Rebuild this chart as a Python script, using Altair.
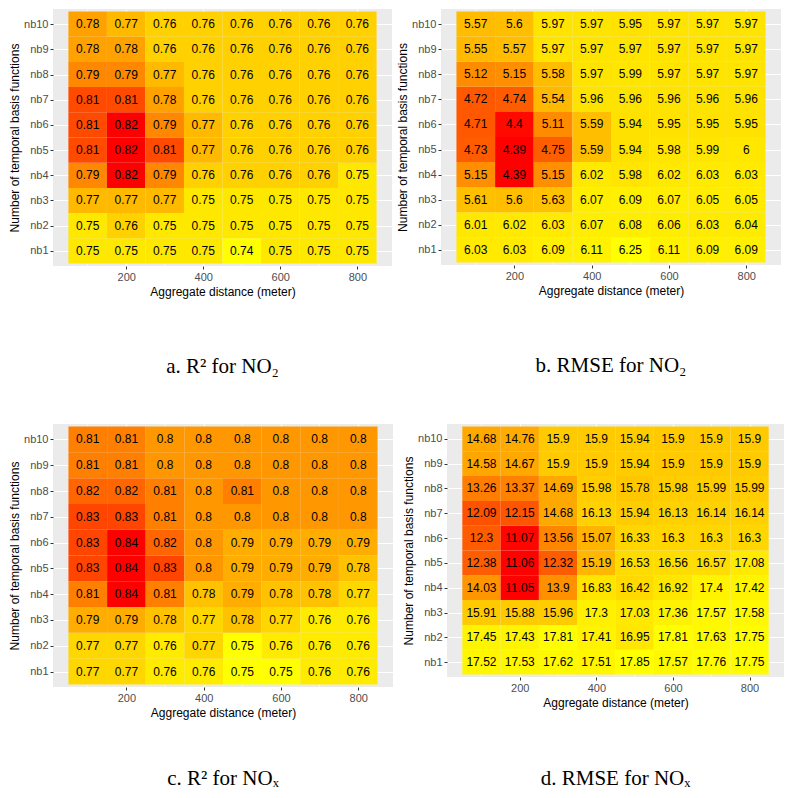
import altair as alt
import pandas as pd

distances = [100, 200, 300, 400, 500, 600, 700, 800]
nb_levels = [1, 2, 3, 4, 5, 6, 7, 8, 9, 10]
minor_breaks = [100, 300, 500, 700]
major_breaks = [200, 400, 600, 800]

# rows nb1 .. nb10, columns 100 .. 800 m
r2_no2 = [
    [0.75, 0.75, 0.75, 0.75, 0.74, 0.75, 0.75, 0.75],
    [0.75, 0.76, 0.75, 0.75, 0.75, 0.75, 0.75, 0.75],
    [0.77, 0.77, 0.77, 0.75, 0.75, 0.75, 0.75, 0.75],
    [0.79, 0.82, 0.79, 0.76, 0.76, 0.76, 0.76, 0.75],
    [0.81, 0.82, 0.81, 0.77, 0.76, 0.76, 0.76, 0.76],
    [0.81, 0.82, 0.79, 0.77, 0.76, 0.76, 0.76, 0.76],
    [0.81, 0.81, 0.78, 0.76, 0.76, 0.76, 0.76, 0.76],
    [0.79, 0.79, 0.77, 0.76, 0.76, 0.76, 0.76, 0.76],
    [0.78, 0.78, 0.76, 0.76, 0.76, 0.76, 0.76, 0.76],
    [0.78, 0.77, 0.76, 0.76, 0.76, 0.76, 0.76, 0.76],
]
rmse_no2 = [
    [6.03, 6.03, 6.09, 6.11, 6.25, 6.11, 6.09, 6.09],
    [6.01, 6.02, 6.03, 6.07, 6.08, 6.06, 6.03, 6.04],
    [5.61, 5.6, 5.63, 6.07, 6.09, 6.07, 6.05, 6.05],
    [5.15, 4.39, 5.15, 6.02, 5.98, 6.02, 6.03, 6.03],
    [4.73, 4.39, 4.75, 5.59, 5.94, 5.98, 5.99, 6.0],
    [4.71, 4.4, 5.11, 5.59, 5.94, 5.95, 5.95, 5.95],
    [4.72, 4.74, 5.54, 5.96, 5.96, 5.96, 5.96, 5.96],
    [5.12, 5.15, 5.58, 5.97, 5.99, 5.97, 5.97, 5.97],
    [5.55, 5.57, 5.97, 5.97, 5.97, 5.97, 5.97, 5.97],
    [5.57, 5.6, 5.97, 5.97, 5.95, 5.97, 5.97, 5.97],
]
r2_nox = [
    [0.77, 0.77, 0.76, 0.76, 0.75, 0.75, 0.76, 0.76],
    [0.77, 0.77, 0.76, 0.77, 0.75, 0.76, 0.76, 0.76],
    [0.79, 0.79, 0.78, 0.77, 0.78, 0.77, 0.76, 0.76],
    [0.81, 0.84, 0.81, 0.78, 0.79, 0.78, 0.78, 0.77],
    [0.83, 0.84, 0.83, 0.8, 0.79, 0.79, 0.79, 0.78],
    [0.83, 0.84, 0.82, 0.8, 0.79, 0.79, 0.79, 0.79],
    [0.83, 0.83, 0.81, 0.8, 0.8, 0.8, 0.8, 0.8],
    [0.82, 0.82, 0.81, 0.8, 0.81, 0.8, 0.8, 0.8],
    [0.81, 0.81, 0.8, 0.8, 0.8, 0.8, 0.8, 0.8],
    [0.81, 0.81, 0.8, 0.8, 0.8, 0.8, 0.8, 0.8],
]
rmse_nox = [
    [17.52, 17.53, 17.62, 17.51, 17.85, 17.57, 17.76, 17.75],
    [17.45, 17.43, 17.81, 17.41, 16.95, 17.81, 17.63, 17.75],
    [15.91, 15.88, 15.96, 17.3, 17.03, 17.36, 17.57, 17.58],
    [14.03, 11.05, 13.9, 16.83, 16.42, 16.92, 17.4, 17.42],
    [12.38, 11.06, 12.32, 15.19, 16.53, 16.56, 16.57, 17.08],
    [12.3, 11.07, 13.56, 15.07, 16.33, 16.3, 16.3, 16.3],
    [12.09, 12.15, 14.68, 16.13, 15.94, 16.13, 16.14, 16.14],
    [13.26, 13.37, 14.69, 15.98, 15.78, 15.98, 15.99, 15.99],
    [14.58, 14.67, 15.9, 15.9, 15.94, 15.9, 15.9, 15.9],
    [14.68, 14.76, 15.9, 15.9, 15.94, 15.9, 15.9, 15.9],
]

captions = ["a. R\u00b2 for NO\u2082", "b. RMSE for NO\u2082",
            "c. R\u00b2 for NO\u2093", "d. RMSE for NO\u2093"]

YELLOW = "#FFFF00"
RED = "#FF0000"
X_TITLE = "Aggregate distance (meter)"
Y_TITLE = "Number of temporal basis functions"


def to_frame(grid):
    rows = []
    for i, nb in enumerate(nb_levels):
        for j, d in enumerate(distances):
            v = grid[i][j]
            rows.append({"dist": d, "lo": d - 50, "hi": d + 50,
                         "nb": nb, "nlo": nb - 0.5, "nhi": nb + 0.5,
                         "value": v, "label": f"{v:g}"})
    return pd.DataFrame(rows)


def panel(grid, caption, reverse, w, h, cap_offset):
    df = to_frame(grid)
    xs = alt.Scale(domain=[10, 890], nice=False, zero=False)
    ys = alt.Scale(domain=[0.4, 10.6], nice=False, zero=False)
    xaxis = alt.Axis(values=major_breaks, title=X_TITLE)
    yaxis = alt.Axis(values=nb_levels, labelExpr="'nb' + datum.value",
                     labelOverlap=False, title=Y_TITLE, titlePadding=2)
    rng = [RED, YELLOW] if reverse else [YELLOW, RED]
    minor = alt.Chart(pd.DataFrame({"m": minor_breaks})).mark_rule(
        color="white", strokeWidth=0.6
    ).encode(x=alt.X("m:Q", scale=xs, axis=xaxis))
    tiles = alt.Chart(df).mark_rect().encode(
        x=alt.X("lo:Q", scale=xs, axis=xaxis),
        x2="hi:Q",
        y=alt.Y("nlo:Q", scale=ys, axis=yaxis),
        y2="nhi:Q",
        color=alt.Color("value:Q", legend=None,
                        scale=alt.Scale(range=rng, interpolate="lab", zero=False)),
    )
    text = alt.Chart(df).mark_text(
        font="Liberation Sans", fontSize=12, color="black"
    ).encode(
        x=alt.X("dist:Q", scale=xs, axis=xaxis),
        y=alt.Y("nb:Q", scale=ys, axis=yaxis),
        text="label:N",
    )
    return alt.layer(minor, tiles, text).properties(
        width=w, height=h,
        title=alt.TitleParams(text=caption, orient="bottom", anchor="middle",
                              font="Liberation Serif", fontSize=21,
                              fontWeight="normal", color="black",
                              offset=cap_offset),
    )


pa = panel(r2_no2, captions[0], False, 339, 257, 59)
pb = panel(rmse_no2, captions[1], True, 340, 256, 59)
pc = panel(r2_nox, captions[2], False, 340, 263, 50)
pd_ = panel(rmse_nox, captions[3], True, 337, 253, 60)

top = alt.hconcat(pa, pb, spacing=4).resolve_scale(color="independent")
bottom = alt.hconcat(pc, pd_, spacing=9).resolve_scale(color="independent")

chart = alt.vconcat(top, bottom, spacing=46).resolve_scale(
    color="independent"
).properties(padding=0).configure_view(
    fill="#EBEBEB", strokeWidth=0
).configure_axis(
    grid=True, gridColor="white", gridWidth=1.2, domain=False,
    tickColor="#333333", tickSize=3, labelPadding=2,
    labelColor="#4D4D4D", labelFontSize=11, labelFont="Liberation Sans",
    titleColor="black", titleFontSize=12, titleFont="Liberation Sans",
    titleFontWeight="normal", titlePadding=4,
)

chart.save("out.html", embed_options={"renderer": "svg", "actions": False})
